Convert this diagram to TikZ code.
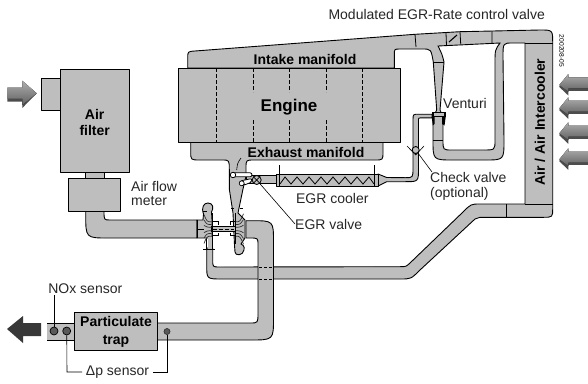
\documentclass[tikz,border=0pt]{standalone}
\usepackage{fontspec}
\setmainfont{Liberation Sans}
\tikzset{
 part/.style={draw=black,fill=partgray,line width=.9pt,line join=round},
 wire/.style={draw=black,line width=0.8pt},
 thin wire/.style={draw=black,line width=0.6pt},
 lab/.style={font=\fontsize{14}{14}\selectfont,inner sep=0pt,text=black!85},
 blab/.style={font=\fontsize{14}{14}\selectfont\bfseries,inner sep=0pt,align=center},
 bigarrow/.style={top color=black!32,bottom color=black!62,draw=none},
 shadow part/.style={fill=black!70,draw=none},
}
\definecolor{partgray}{HTML}{BEBEBE}
\newcommand{\flowarrow}[1]{%
 \begin{scope}[shift={(#1)}]
  \fill[shadow part] (0,1.5)--(9,-9.5)--(9,-8)--(9,10.5)--(-0.5,1.5)--cycle;
  \fill[shadow part] (9,5.5)--(29,5.5)--(29,3)--(9,3)--cycle;
  \fill[bigarrow] (0,0)--(9,-11)--(9,-7.7)--(29,-7.7)--(29,3.3)--(9,3.3)--(9,6.7)--cycle;
 \end{scope}}
\begin{document}
\begin{tikzpicture}[x=1pt,y=-1pt]
\useasboundingbox (0,0) rectangle (588,383);
% inlet arrow
\fill[shadow part] (36.7,93.3)--(22.3,108)--(22.3,101.5)--(7.3,101.5)--(7.3,98.5)--(25,98.5)--cycle;
\fill[bigarrow] (36.7,93.3)--(22.3,80.7)--(22.3,87.7)--(7.3,87.7)--(7.3,98.5)--(22.3,98.5)--(22.3,105)--cycle;
% air filter group
\path[part] (85.7,211) -- (85.7,214) .. controls (85.7,238) .. (108,238) -- (197,238) -- (197,220) -- (110,220) .. controls (104,220) .. (104,211) -- cycle;
\path[part] (41.7,78.3) rectangle (60.3,110.3);
\path[part] (85.7,172) rectangle (104,178.3);
\path[part] (60.3,69.3) rectangle (129.3,172.3);
\path[part] (68.7,178.3) rectangle (120.3,211);
% intake system
\path[part] (187.7,68) -- (187.7,58) .. controls (187.7,51.5) .. (195,51) -- (415,34.3) -- (460,31.7) -- (540,30)
  .. controls (552.7,30) .. (552.7,43) -- (552.7,208) .. controls (552.7,217.3) .. (543,217.3) -- (480,217.3)
  .. controls (477,217.3) .. (475,219) -- (420,270) .. controls (411,279) .. (400,279) -- (222,279)
  .. controls (206.7,279) .. (206.7,265) -- (206.7,248) -- (212.7,248) -- (212.7,260)
  .. controls (212.7,267) .. (220,267) -- (400,266.7) .. controls (406,266.7) .. (410,263) -- (463,212)
  .. controls (471,204) .. (480,204) -- (525,204) -- (525,43) -- (513,43) .. controls (503,43) .. (503,57)
  -- (504,140) .. controls (504,160) .. (485,160) -- (453,160) .. controls (433,160) .. (433,140)
  -- (433,117) -- (436.7,110) -- (433.3,62) .. controls (431,49) .. (422,49) -- (400,49)
  .. controls (394.3,49) .. (394.3,55) -- (394.3,68) -- cycle;
% white region of the venturi loop
\path[draw=black,fill=white,line width=.9pt] (438,46) -- (500,43) .. controls (495,50) .. (495,63) -- (495,140)
  .. controls (495,150) .. (483,150) -- (452,150) .. controls (443,150) .. (443,140) -- (443,117) -- (440,110) -- (444,62) .. controls (442,54) .. (438,46) -- cycle;
\draw[wire] (433.3,62)--(444,62) (433,140)--(443,140);
% valve cells
\draw[wire] (415,34.3)--(416,47) (446,33)--(446.5,45.5) (460,31.7)--(460.7,44) (492,31)--(492,43);
\draw[line width=1.1pt] (449,42)--(457,35);
% intercooler
\draw[wire] (525,43)--(552.7,43) (525,204)--(552.7,204) (506.7,204)--(506.7,217.3);
% exhaust out pipe
\path[part] (246,220.7) -- (252,220.7) .. controls (273.5,220.7) .. (273.5,242) -- (273.5,318)
  .. controls (273.5,340) .. (250,340) -- (157,340) -- (157,323) -- (250,323)
  .. controls (258,323) .. (258,313) -- (258,245) .. controls (258,238) .. (250,238) -- (246,238) -- cycle;
% crossing
\draw[partgray,line width=1.4pt] (259,266.9)--(272.9,266.9) (259,279)--(272.9,279);
\draw[black,line width=.8pt,dash pattern=on 3pt off 2pt] (259,266.9)--(272.9,266.9) (259,279)--(272.9,279);
% exhaust manifold, cone, turbine
\path[part] (190.7,142) -- (190.7,151.7) .. controls (190.7,160) .. (200,160) -- (222,160)
  .. controls (229.3,160) .. (229.3,170) -- (229.3,189) -- (233,213) -- (234.5,245) -- (235,252)
  .. controls (235,256) and (243,256) .. (244,250) .. controls (245,246) and (242,244) .. (241,244) -- (245,238) -- (245,220) -- (238,213) -- (243,189) -- (246,176) -- (246,168)
  .. controls (246,160) .. (254,160) -- (375,160) .. controls (383,160) .. (383,151.7) -- (383,142) -- cycle;
% compressor housing
\path[part] (197,220) -- (203,220) -- (203.5,214) .. controls (201,207) and (204,203) .. (208,203)
  .. controls (213,203) and (214,208) .. (211.5,212) -- (212,220) -- (212,238) -- (206.7,238) -- (197,238) -- cycle;
\path[fill=partgray] (207.5,237)--(212,237)--(212,249)--(207.5,249)--cycle;
\draw[wire] (206.7,238)--(206.7,249) (212.7,238)--(212.7,249);
\draw[wire] (197,220)--(197,238) (197,229)--(204,229);
% shaft
\path[part,line width=.7pt] (211.7,226.7) rectangle (235,231.7);
\draw[line width=.6pt,dash pattern=on 4pt off 2pt] (213,229.2)--(234,229.2);
% blades
\foreach \k in {2,5,8}{
 \draw[line width=.7pt,black!80] (211.5,229-\k*0.9) .. controls (207,229-\k*0.9) .. (204,229-\k*1.8);
 \draw[line width=.7pt,black!80] (211.5,229+\k*0.9) .. controls (207,229+\k*0.9) .. (204,229+\k*1.8);
 \draw[line width=.7pt,black!80] (235.5,229-\k*0.9) .. controls (240,229-\k*0.9) .. (243.5,229-\k*1.9);
 \draw[line width=.7pt,black!80] (235.5,229+\k*0.9) .. controls (240,229+\k*0.9) .. (243.5,229+\k*1.9);
}
\draw[wire] (212,213)--(212,242) (235,213)--(235,244);
% bearing ticks
\draw[thin wire] (213,221.7)--(218,221.7)--(218,225) (235,221.7)--(230,221.7)--(230,225)
  (213,235)--(218,235)--(218,232.5) (235,235)--(230,235)--(230,232.5)
  (203,249)--(215,249) (203,211.7)--(207,211.7) (240,208)--(243,208) (231,208)--(234,208);
% EGR line
\draw[part] (246,175) rectangle (276,183.3);
\path[part] (378,174) -- (386.7,177.5) -- (405,177.7) .. controls (413,177.7) .. (413,168) -- (413,120)
  .. controls (413,114.2) .. (419,114.2) -- (432,114.2) -- (432,117.8) -- (421,117.8)
  .. controls (418.5,117.8) .. (418.5,121) -- (418.5,168) .. controls (418.5,181.7) .. (405,181.7) -- (386.7,181.7) -- (378,186) -- cycle;
% injector
\fill[black] (431.7,111.7) rectangle (445.7,116.7);
\fill[partgray] (434,112.7) rectangle (443.5,115.7);
\fill[black] (431.7,117) -- (434.5,117) -- (434.5,124) -- (432.8,125.5) -- cycle;
\fill[black] (445.7,117) -- (442,117) -- (442,124) -- (444.5,125.5) -- cycle;
% cooler
\path[part] (276,174) rectangle (378,186);
\draw[thin wire] (279.3,165)--(279.3,186) (374,165)--(374,186);
\draw[line width=.8pt] (280,184) -- (285,177) -- (291,184) -- (297,177) -- (303,184) -- (309,177) -- (315,184) -- (321,177) -- (327,184) -- (333,177) -- (339,184) -- (345,177) -- (351,184) -- (357,177) -- (363,184) -- (369,177) -- (374,184);
% EGR valve
\node[circle,draw=black,fill=partgray,line width=.8pt,minimum size=9pt,inner sep=0pt] (egrv) at (256.7,180) {};
\draw[line width=.7pt] (egrv.north west)--(egrv.south east) (egrv.north east)--(egrv.south west);
\draw[line width=.8pt,fill=white,rounded corners=2pt] (231,172.8) rectangle (252,176.8);
\node[circle,draw=black,fill=white,line width=.8pt,minimum size=5.5pt,inner sep=0pt] (pin) at (233,175) {};
\draw[line width=.8pt,fill=white,rounded corners=2pt] (240,181) -- (252,178.5) -- (252,182) -- (243,185.5) -- cycle;
\node[circle,draw=black,fill=white,line width=.7pt,minimum size=5pt,inner sep=0pt] (pinb) at (241.7,183.3) {};
\draw[thin wire] (241,158) .. controls (237.5,163) .. (236.7,170);
% check valve
\draw[thin wire] (407,146)--(415.7,155)--(424,146);
\node[circle,draw=black,fill=partgray,line width=.9pt,minimum size=7pt,inner sep=0pt] (chk) at (415.7,150) {};
% engine
\path[part] (178,68) rectangle (400,142);
\foreach \x/\a/\b in {216.7/68/142,362.7/68/142}{\draw[line width=.7pt,dash pattern=on 4pt off 2pt] (\x,\a)--(\x,\b);}
\foreach \x in {253.3,289.3,326.3}{\draw[line width=.7pt,dash pattern=on 4pt off 2pt] (\x,68)--(\x,92) (\x,120)--(\x,142);}
% trap and stub
\fill[partgray] (47,323) rectangle (74,340);
\draw[wire] (47,323)--(74,323) (47,340)--(74,340);
\path[part] (74,312.7) rectangle (157,350);
% sensors
\node[circle,draw=black,fill=black!65,line width=.7pt,minimum size=8pt,inner sep=0pt] (nox) at (54,331) {};
\node[circle,draw=black,fill=black!65,line width=.7pt,minimum size=8pt,inner sep=0pt] (dpa) at (66.7,331) {};
\node[circle,draw=black!80,fill=black!65,line width=.7pt,minimum size=6pt,inner sep=0pt] (dpb) at (167,331.5) {};
% outlet arrow
\fill[black!78] (7,329)--(23,316)--(23,323)--(41,323)--(41,336)--(23,336)--(23,343)--cycle;
% intake arrows
\flowarrow{559.3,85}
\flowarrow{559.3,108.3}
\flowarrow{559.3,133.3}
\flowarrow{559.3,159.3}
% labels
\node[lab] (mod) at (436.7,14.3) {Modulated EGR-Rate control valve};
\node[blab] (intake) at (305,59.3) {Intake manifold};
\node[blab,font=\fontsize{17}{20}\selectfont\bfseries] (engine) at (289,107.3) {Engine};
\node[blab] (exhaust) at (306,152.3) {Exhaust manifold};
\node[blab,font=\fontsize{14}{16.5}\selectfont\bfseries] (filter) at (94.7,122.3) {Air\\filter};
\node[lab,align=left,anchor=west] (meter) at (131,193) {Air flow\\meter};
\node[lab,anchor=west] (venturi) at (443,103.3) {Venturi};
\node[lab,align=left,anchor=north west,font=\fontsize{14}{15}\selectfont] (check) at (430,172) {Check valve\\(optional)};
\node[lab] (cooler) at (332.3,198.3) {EGR cooler};
\node[lab,anchor=west] (valve) at (295,224) {EGR valve};
\node[blab,rotate=90] (inter) at (540,122) {Air / Air Intercooler};
\node[blab,font=\fontsize{14}{17.5}\selectfont\bfseries] (trap) at (116,332) {Particulate\\trap};
\node[lab] (noxl) at (85.3,288.3) {NOx sensor};
\node[lab] (dp) at (117.5,371.7) {Δp sensor};
\node[rotate=-90,font=\fontsize{6.7}{7}\selectfont,inner sep=0pt] (code) at (561.7,51) {200208-05};
% leaders
\coordinate (noxt) at (54,295);
\coordinate (dpl) at (67,372);
\coordinate (dpr) at (167,372);
\draw[thin wire] (noxt)--(nox);
\draw[thin wire] (dpa)--(dpl)--(82,372);
\draw[thin wire] (dpb)--(dpr)--(153,372);
\draw[thin wire] (egrv)--(valve.west);
\coordinate (chkleadend) at (432,172);
\draw[thin wire] (chk)--(chkleadend);
\end{tikzpicture}
\end{document}
